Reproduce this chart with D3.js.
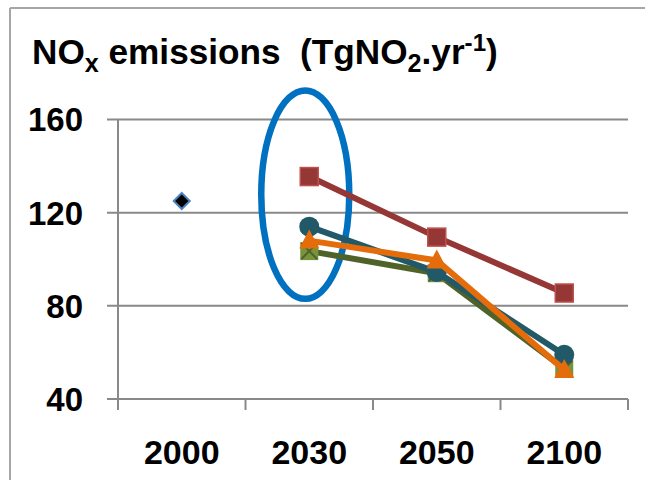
<!DOCTYPE html>
<html>
<head>
<meta charset="utf-8">
<script src="https://cdn.jsdelivr.net/npm/d3@7"></script>
<style>
html,body{margin:0;padding:0;background:#fff;}
svg{display:block;}
text{font-family:"Liberation Sans",Arial,sans-serif;font-weight:bold;fill:#000;}
.title{white-space:pre;}
</style>
</head>
<body>
<svg id="chart" width="645" height="480"></svg>
<script>
// ---- data ----
const years = ["2000", "2030", "2050", "2100"];
const yTicks = [40, 80, 120, 160];
const baseYear = ["2000"];
const baseValue = [125];
const seriesYears = ["2030", "2050", "2100"];
const redValues = [135.5, 109.5, 85.5];
const tealValues = [114, 94.5, 59];
const greenValues = [103.5, 94, 53];
const orangeValues = [108, 99.5, 52.5];
const ellipseRange = [83, 172.5]; // value span covered by the highlight ellipse at 2030

const svg = d3.select("#chart");
const W = 645, H = 480;

const x = d3.scaleBand().domain(years).range([118, 628]).paddingInner(0).paddingOuter(0);
const y = d3.scaleLinear().domain([40, 160]).range([399, 119.5]);
const gridColor = "#898989";

// frame (partial border of the slide box)
svg.append("line").attr("x1", 10).attr("x2", 10).attr("y1", 8).attr("y2", H)
  .attr("stroke", "#a6a6a6").attr("stroke-width", 2);
svg.append("line").attr("x1", 10).attr("x2", W).attr("y1", 8).attr("y2", 8)
  .attr("stroke", "#a6a6a6").attr("stroke-width", 2);

// gridlines + y ticks
svg.append("g").selectAll("line").data(yTicks).join("line")
  .attr("x1", 107).attr("x2", 628)
  .attr("y1", d => y(d)).attr("y2", d => y(d))
  .attr("stroke", gridColor).attr("stroke-width", 2);

// y axis line
svg.append("line").attr("x1", x.range()[0]).attr("x2", x.range()[0])
  .attr("y1", y(160)).attr("y2", y(40) + 11)
  .attr("stroke", gridColor).attr("stroke-width", 2);

// x ticks at band boundaries
const bounds = years.map(d => x(d)).concat([x.range()[1]]);
svg.append("g").selectAll("line").data(bounds).join("line")
  .attr("x1", d => d).attr("x2", d => d)
  .attr("y1", y(40)).attr("y2", y(40) + 11)
  .attr("stroke", gridColor).attr("stroke-width", 2);

// y labels
svg.append("g").selectAll("text").data(yTicks).join("text")
  .attr("x", 83).attr("y", d => y(d)).attr("dy", "0.36em")
  .attr("text-anchor", "end").attr("font-size", 33).text(d => d);

// x labels
svg.append("g").selectAll("text").data(years).join("text")
  .attr("x", d => x(d) + x.bandwidth() / 2).attr("y", 452).attr("dy", "0.36em")
  .attr("text-anchor", "middle").attr("font-size", 34).text(d => d);

// title
const title = svg.append("text").attr("class", "title").attr("x", 32).attr("y", 64).attr("font-size", 35);
title.append("tspan").text("NO");
title.append("tspan").attr("font-size", 25).attr("dy", 8).text("x");
title.append("tspan").attr("dy", -8).text(" emissions  (TgNO");
title.append("tspan").attr("font-size", 25).attr("dy", 8).text("2");
title.append("tspan").attr("dy", -8).text(".yr");
title.append("tspan").attr("font-size", 24).attr("dy", -13).text("-1");
title.append("tspan").attr("dy", 13).text(")");
const tw = title.node().getBBox().width;
const targetW = 466;
const sx = targetW / tw;
title.attr("transform", `translate(32,0) scale(${sx},1) translate(-32,0)`);

const cx = d => x(d) + x.bandwidth() / 2;

// highlight ellipse
svg.append("ellipse")
  .attr("cx", cx("2030") - 4)
  .attr("cy", (y(ellipseRange[0]) + y(ellipseRange[1])) / 2)
  .attr("rx", 44)
  .attr("ry", (y(ellipseRange[0]) - y(ellipseRange[1])) / 2)
  .attr("fill", "none").attr("stroke", "#0070C0").attr("stroke-width", 6.5);

const line = d3.line().x(d => cx(d.year)).y(d => y(d.v));
function pts(vals) { return seriesYears.map((yr, i) => ({ year: yr, v: vals[i] })); }

// red series (squares)
const redPts = pts(redValues);
svg.append("path").datum(redPts).attr("d", line)
  .attr("fill", "none").attr("stroke", "#953735").attr("stroke-width", 6);
svg.append("g").selectAll("rect").data(redPts).join("rect")
  .attr("x", d => cx(d.year) - 9).attr("y", d => y(d.v) - 9)
  .attr("width", 18).attr("height", 18)
  .attr("fill", "#953735").attr("stroke", "#C0504D").attr("stroke-width", 1.5);

// green series (square with x)
const greenPts = pts(greenValues);
svg.append("path").datum(greenPts).attr("d", line)
  .attr("fill", "none").attr("stroke", "#4F6228").attr("stroke-width", 6);
const gm = svg.append("g").selectAll("g").data(greenPts).join("g")
  .attr("transform", d => `translate(${cx(d.year)},${y(d.v)})`);
gm.append("rect").attr("x", -9).attr("y", -9).attr("width", 18).attr("height", 18)
  .attr("fill", "#77933C");
gm.append("path").attr("d", "M-8,-8L8,8M-8,8L8,-8")
  .attr("stroke", "#4F6228").attr("stroke-width", 2);

// teal series (circles)
const tealPts = pts(tealValues);
svg.append("path").datum(tealPts).attr("d", line)
  .attr("fill", "none").attr("stroke", "#215968").attr("stroke-width", 6);
svg.append("g").selectAll("circle").data(tealPts).join("circle")
  .attr("cx", d => cx(d.year)).attr("cy", d => y(d.v)).attr("r", 10)
  .attr("fill", "#215968");

// orange series (triangles)
const orangePts = pts(orangeValues);
svg.append("path").datum(orangePts).attr("d", line)
  .attr("fill", "none").attr("stroke", "#E46C0A").attr("stroke-width", 6);
svg.append("g").selectAll("path").data(orangePts).join("path")
  .attr("transform", d => `translate(${cx(d.year)},${y(d.v)})`)
  .attr("d", "M0,-11L10,8L-10,8Z")
  .attr("fill", "#E46C0A");

// 2000 baseline diamond
svg.append("g").selectAll("path").data(baseYear.map((yr, i) => ({ year: yr, v: baseValue[i] }))).join("path")
  .attr("transform", d => `translate(${cx(d.year)},${y(d.v)})`)
  .attr("d", "M0,-8L8,0L0,8L-8,0Z")
  .attr("fill", "#000").attr("stroke", "#4F81BD").attr("stroke-width", 2);
</script>
</body>
</html>
